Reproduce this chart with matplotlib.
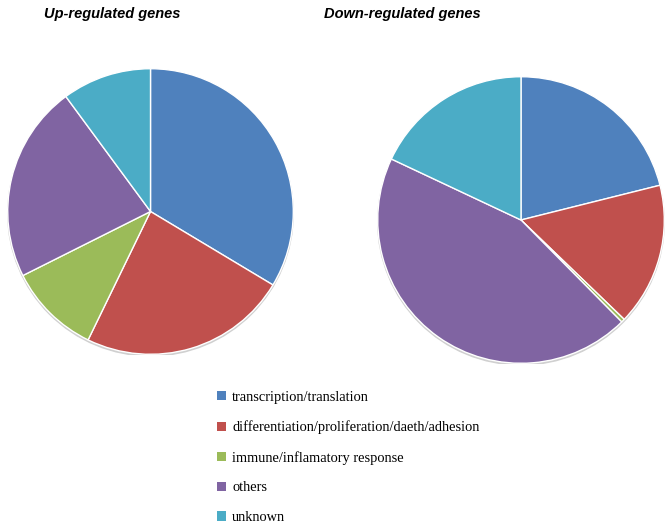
import matplotlib
matplotlib.use('Agg')
import matplotlib.pyplot as plt
from matplotlib.patches import Patch, Circle

categories = ['transcription/translation',
              'differentiation/proliferation/daeth/adhesion',
              'immune/inflamatory response',
              'others',
              'unknown']
up_share = [33.6, 23.6, 10.4, 22.3, 10.1]
down_share = [21.1, 16.1, 0.4, 44.4, 18.0]
titles = ['Up-regulated genes', 'Down-regulated genes']

colors = ['#4F81BD', '#C0504D', '#9BBB59', '#8064A2', '#4BACC6']

W, H = 672, 530
fig = plt.figure(figsize=(W / 100, H / 100), dpi=100)

# pie axes placed in pixel coords: (left, bottom, size)
boxes = [(7, 175, 287), (377, 166, 288)]

for vals, (l, b, s) in zip([up_share, down_share], boxes):
    ax = fig.add_axes([l / W, b / H, s / W, s / H])
    # faint shadow under the pie
    ax.add_patch(Circle((0, -0.012), 1.0, color='#d0d0d0', zorder=0))
    ax.pie(vals, colors=colors, startangle=90, counterclock=False,
           wedgeprops=dict(edgecolor='white', linewidth=1.0))
    ax.set_xlim(-1.005, 1.005)
    ax.set_ylim(-1.005, 1.005)
    ax.set_aspect('equal')
    ax.axis('off')

fig.text(112 / W, 1 - 14 / H, titles[0], ha='center', va='center',
         family='Liberation Sans', weight='bold', style='italic', fontsize=10.5)
fig.text(402 / W, 1 - 14 / H, titles[1], ha='center', va='center',
         family='Liberation Sans', weight='bold', style='italic', fontsize=10.5)

handles = [Patch(facecolor=c, edgecolor='none') for c in colors]
fig.legend(handles, categories, loc='upper left',
           bbox_to_anchor=(217 / W, 1 - 391 / H), frameon=False,
           prop=dict(family='Liberation Serif', size=10.4),
           handlelength=0.6, handleheight=0.6, handletextpad=0.45,
           labelspacing=1.15, borderpad=0, borderaxespad=0)

fig.savefig('out.png', dpi=100)
